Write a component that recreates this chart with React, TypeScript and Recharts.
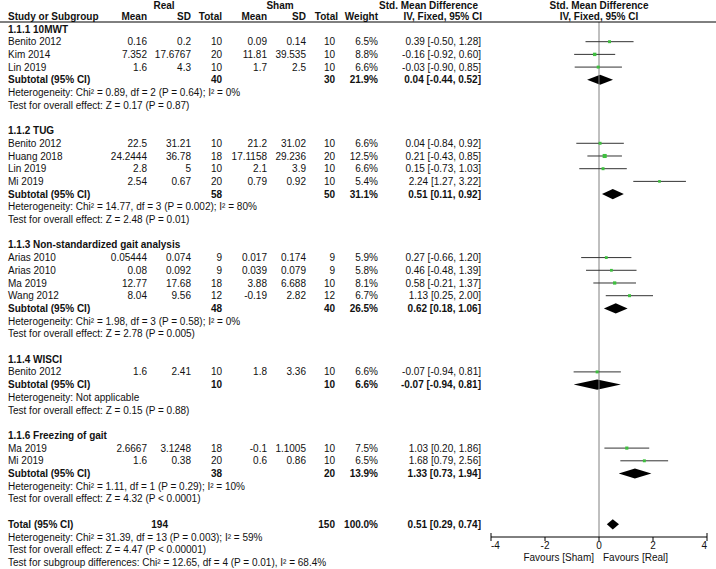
import React from 'react';
import { ComposedChart, Scatter, ErrorBar, Area, XAxis, YAxis, ReferenceLine } from 'recharts';

// ---- data ----
const groupTitles = [
  '1.1.1 10MWT',
  '1.1.2 TUG',
  '1.1.3 Non-standardized gait analysis',
  '1.1.4 WISCI',
  '1.1.6 Freezing of gait',
];

const studyGroup = [0, 0, 0, 1, 1, 1, 1, 2, 2, 2, 2, 3, 4, 4];
const studyNames = [
  'Benito 2012', 'Kim 2014', 'Lin 2019',
  'Benito 2012', 'Huang 2018', 'Lin 2019', 'Mi 2019',
  'Arias 2010', 'Arias 2010', 'Ma 2019', 'Wang 2012',
  'Benito 2012',
  'Ma 2019', 'Mi 2019',
];
const realMean = ['0.16', '7.352', '1.6', '22.5', '24.2444', '2.8', '2.54', '0.05444', '0.08', '12.77', '8.04', '1.6', '2.6667', '1.6'];
const realSD = ['0.2', '17.6767', '4.3', '31.21', '36.78', '5', '0.67', '0.074', '0.092', '17.68', '9.56', '2.41', '3.1248', '0.38'];
const realTotal = [10, 20, 10, 10, 18, 10, 20, 9, 9, 18, 12, 10, 18, 20];
const shamMean = ['0.09', '11.81', '1.7', '21.2', '17.1158', '2.1', '0.79', '0.017', '0.039', '3.88', '-0.19', '1.8', '-0.1', '0.6'];
const shamSD = ['0.14', '39.535', '2.5', '31.02', '29.236', '3.9', '0.92', '0.174', '0.079', '6.688', '2.82', '3.36', '1.1005', '0.86'];
const shamTotal = [10, 10, 10, 10, 20, 10, 10, 9, 9, 10, 12, 10, 10, 10];
const studyWeight = [6.5, 8.8, 6.6, 6.6, 12.5, 6.6, 5.4, 5.9, 5.8, 8.1, 6.7, 6.6, 7.5, 6.5];
const studySmd = [0.39, -0.16, -0.03, 0.04, 0.21, 0.15, 2.24, 0.27, 0.46, 0.58, 1.13, -0.07, 1.03, 1.68];
const studyLo = [-0.5, -0.92, -0.9, -0.84, -0.43, -0.73, 1.27, -0.66, -0.48, -0.21, 0.25, -0.94, 0.2, 0.79];
const studyHi = [1.28, 0.6, 0.85, 0.92, 0.85, 1.03, 3.22, 1.2, 1.39, 1.37, 2.0, 0.81, 1.86, 2.56];

const subRealTotal = [40, 58, 48, 10, 38];
const subShamTotal = [30, 50, 40, 10, 20];
const subWeight = [21.9, 31.1, 26.5, 6.6, 13.9];
const subSmd = [0.04, 0.51, 0.62, -0.07, 1.33];
const subLo = [-0.44, 0.11, 0.18, -0.94, 0.73];
const subHi = [0.52, 0.92, 1.06, 0.81, 1.94];
const subHeterogeneity = [
  'Heterogeneity: Chi² = 0.89, df = 2 (P = 0.64); I² = 0%',
  'Heterogeneity: Chi² = 14.77, df = 3 (P = 0.002); I² = 80%',
  'Heterogeneity: Chi² = 1.98, df = 3 (P = 0.58); I² = 0%',
  'Heterogeneity: Not applicable',
  'Heterogeneity: Chi² = 1.11, df = 1 (P = 0.29); I² = 10%',
];
const subOverall = [
  'Test for overall effect: Z = 0.17 (P = 0.87)',
  'Test for overall effect: Z = 2.48 (P = 0.01)',
  'Test for overall effect: Z = 2.78 (P = 0.005)',
  'Test for overall effect: Z = 0.15 (P = 0.88)',
  'Test for overall effect: Z = 4.32 (P < 0.0001)',
];

const totalReal = 194;
const totalSham = 150;
const totalWeight = 100.0;
const totalSmd = 0.51;
const totalLo = 0.29;
const totalHi = 0.74;
const totalNotes = [
  'Heterogeneity: Chi² = 31.39, df = 13 (P = 0.003); I² = 59%',
  'Test for overall effect: Z = 4.47 (P < 0.00001)',
  'Test for subgroup differences: Chi² = 12.65, df = 4 (P = 0.01), I² = 68.4%',
];

const xTicks = [-4, -2, 0, 2, 4];

// ---- layout ----
const W = 716;
const H = 569;
const ROW0 = 29;
const PITCH = 12.7;
const FONT = '"Liberation Sans", Arial, sans-serif';
const rowY = (i: number) => ROW0 + PITCH * i;

type TextRow = { row: number; kind: 'title' | 'study' | 'sub' | 'note' | 'total'; cells: Record<string, string> };

const textRows: TextRow[] = [];
const points: any[] = [];
const diamonds: { row: number; smd: number; lo: number; hi: number }[] = [];

let r = 0;
groupTitles.forEach((title, g) => {
  textRows.push({ row: r++, kind: 'title', cells: { name: title } });
  studyNames.forEach((name, i) => {
    if (studyGroup[i] !== g) return;
    textRows.push({
      row: r,
      kind: 'study',
      cells: {
        name,
        rm: realMean[i], rs: realSD[i], rt: String(realTotal[i]),
        sm: shamMean[i], ss: shamSD[i], st: String(shamTotal[i]),
        w: studyWeight[i].toFixed(1) + '%',
        ci: `${studySmd[i].toFixed(2)} [${studyLo[i].toFixed(2)}, ${studyHi[i].toFixed(2)}]`,
      },
    });
    points.push({
      x: studySmd[i],
      row: r,
      weight: studyWeight[i],
      err: [studySmd[i] - studyLo[i], studyHi[i] - studySmd[i]],
    });
    r++;
  });
  textRows.push({
    row: r,
    kind: 'sub',
    cells: {
      name: 'Subtotal (95% CI)', rt: String(subRealTotal[g]), st: String(subShamTotal[g]),
      w: subWeight[g].toFixed(1) + '%',
      ci: `${subSmd[g].toFixed(2)} [${subLo[g].toFixed(2)}, ${subHi[g].toFixed(2)}]`,
    },
  });
  diamonds.push({ row: r, smd: subSmd[g], lo: subLo[g], hi: subHi[g] });
  r++;
  textRows.push({ row: r++, kind: 'note', cells: { name: subHeterogeneity[g] } });
  textRows.push({ row: r++, kind: 'note', cells: { name: subOverall[g] } });
  r++; // blank line
});
textRows.push({
  row: r,
  kind: 'total',
  cells: {
    name: 'Total (95% CI)', rtTotal: String(totalReal), st: String(totalSham),
    w: totalWeight.toFixed(1) + '%',
    ci: `${totalSmd.toFixed(2)} [${totalLo.toFixed(2)}, ${totalHi.toFixed(2)}]`,
  },
});
diamonds.push({ row: r, smd: totalSmd, lo: totalLo, hi: totalHi });
r++;
totalNotes.forEach((n) => textRows.push({ row: r++, kind: 'note', cells: { name: n } }));

const colX: Record<string, { x: number; anchor: 'start' | 'end' }> = {
  name: { x: 8, anchor: 'start' },
  rm: { x: 147, anchor: 'end' },
  rs: { x: 191, anchor: 'end' },
  rt: { x: 222, anchor: 'end' },
  rtTotal: { x: 168, anchor: 'end' },
  sm: { x: 267, anchor: 'end' },
  ss: { x: 306, anchor: 'end' },
  st: { x: 335, anchor: 'end' },
  w: { x: 378, anchor: 'end' },
  ci: { x: 481, anchor: 'end' },
};

const HALF = 0.4;
const diamondData = diamonds.map((d) => [
  { x: d.lo, band: [d.row, d.row] },
  { x: d.smd, band: [d.row - HALF, d.row + HALF] },
  { x: d.hi, band: [d.row, d.row] },
]);

function Square(props: any) {
  const { cx, cy, payload } = props;
  const s = 1.15 * Math.sqrt(payload.weight);
  return <rect x={cx - s / 2} y={cy - s / 2} width={s} height={s} fill="#3fbf3f" />;
}

function AxisTick(props: any) {
  const { x, y, payload } = props;
  const v = payload.value;
  const end = v === -4 || v === 4;
  return (
    <g>
      <line x1={x} x2={x} y1={end ? y - 4 : y} y2={y + 4} stroke="#000" />
      <text
        x={x}
        y={y + 8}
        dominantBaseline="central"
        textAnchor={v === -4 ? 'start' : v === 4 ? 'end' : 'middle'}
        fontSize={10}
        fontFamily={FONT}
        fill="#111"
      >
        {v}
      </text>
    </g>
  );
}

function TableText() {
  const header = (x: number, y: number, s: string, anchor: 'start' | 'middle' | 'end') => (
    <text x={x} y={y} textAnchor={anchor} dominantBaseline="central" fontWeight="bold">{s}</text>
  );
  return (
    <svg width={W} height={H} style={{ position: 'absolute', left: 0, top: 0, pointerEvents: 'none' }}>
      <g fontFamily={FONT} fontSize={10} fill="#111">
        {header(164, 5, 'Real', 'middle')}
        {header(280, 5, 'Sham', 'middle')}
        {header(478, 5, 'Std. Mean Difference', 'end')}
        {header(599, 5, 'Std. Mean Difference', 'middle')}
        {header(8, 16.5, 'Study or Subgroup', 'start')}
        {header(147, 16.5, 'Mean', 'end')}
        {header(191, 16.5, 'SD', 'end')}
        {header(222, 16.5, 'Total', 'end')}
        {header(267, 16.5, 'Mean', 'end')}
        {header(306, 16.5, 'SD', 'end')}
        {header(338, 16.5, 'Total', 'end')}
        {header(378, 16.5, 'Weight', 'end')}
        {header(482, 16.5, 'IV, Fixed, 95% CI', 'end')}
        {header(599, 16.5, 'IV, Fixed, 95% CI', 'middle')}
        {textRows.map((tr) =>
          Object.keys(tr.cells).map((k) => (
            <text
              key={`${tr.row}-${k}`}
              x={colX[k].x}
              y={rowY(tr.row)}
              textAnchor={colX[k].anchor}
              dominantBaseline="central"
              fontWeight={tr.kind === 'title' || tr.kind === 'sub' || tr.kind === 'total' ? 'bold' : 'normal'}
            >
              {tr.cells[k]}
            </text>
          ))
        )}
        <text x={594} y={557} textAnchor="end" dominantBaseline="central">Favours [Sham]</text>
        <text x={603} y={557} textAnchor="start" dominantBaseline="central">Favours [Real]</text>
      </g>
      <line x1={0} x2={W} y1={22} y2={22} stroke="#000" />
    </svg>
  );
}

export default function App() {
  return (
    <div style={{ position: 'relative', width: W, height: H, background: '#fff' }}>
      <style>{'body{margin:0}'}</style>
      <ComposedChart width={W} height={H} margin={{ top: 22, right: 9, bottom: 0, left: 491 }}>
        <XAxis
          type="number"
          dataKey="x"
          domain={[-4, 4]}
          ticks={xTicks}
          allowDataOverflow
          height={32}
          stroke="#000"
          tickLine={false}
          tickSize={0}
          tickMargin={0}
          tick={<AxisTick />}
        />
        <YAxis type="number" dataKey="row" domain={[-0.55, 40]} reversed hide allowDataOverflow />
        <ReferenceLine x={0} stroke="#808080" strokeWidth={1} />
        {diamondData.map((d, i) => (
          <Area
            key={i}
            data={d}
            dataKey="band"
            type="linear"
            stroke="none"
            fill="#000"
            fillOpacity={1}
            isAnimationActive={false}
            dot={false}
            activeDot={false}
          />
        ))}
        <Scatter data={points} shape={<Square />} isAnimationActive={false}>
          <ErrorBar dataKey="err" direction="x" width={0} stroke="#333" strokeWidth={1} isAnimationActive={false} />
        </Scatter>
      </ComposedChart>
      <TableText />
    </div>
  );
}
